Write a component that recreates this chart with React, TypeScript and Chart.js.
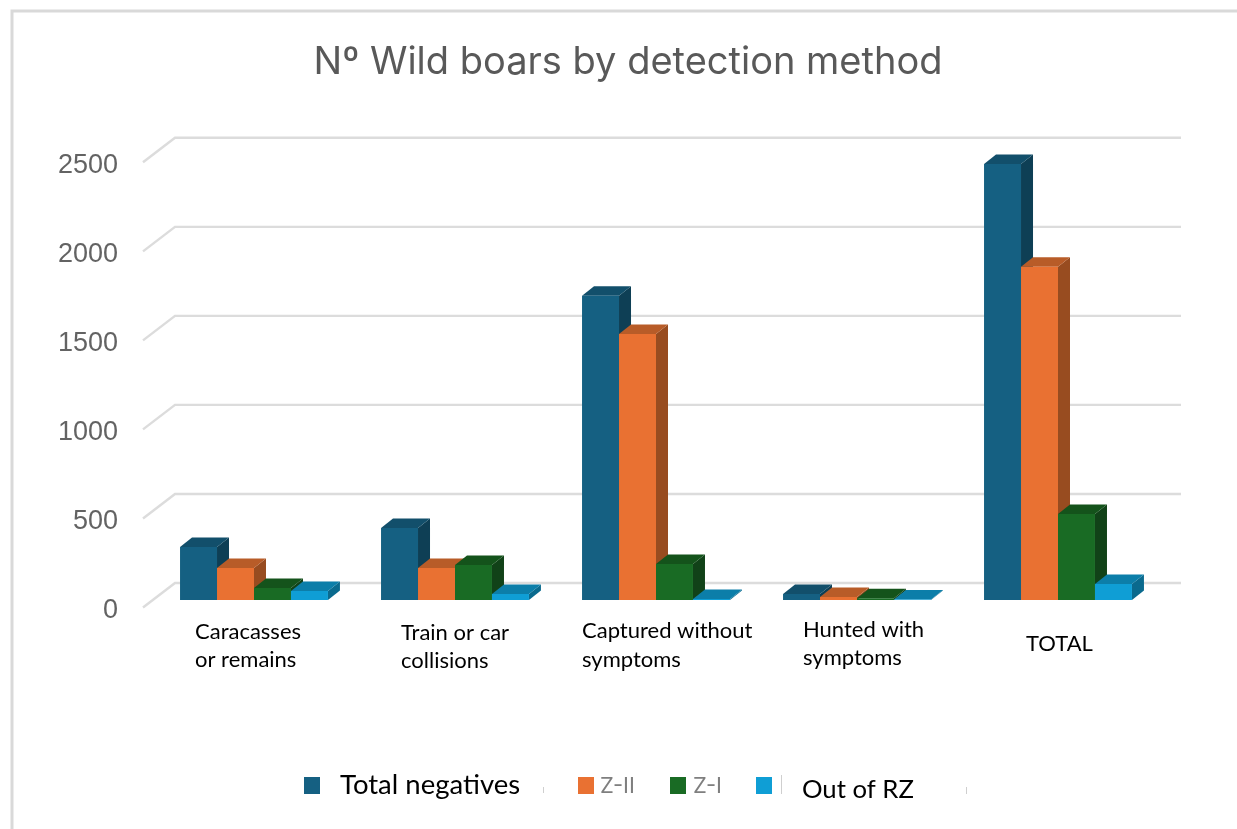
import React, { useEffect, useRef } from "react";
import { Chart, registerables } from "chart.js";

Chart.register(...registerables);

const categories = ["Caracasses or remains", "Train or car collisions", "Captured without symptoms", "Hunted with symptoms", "TOTAL"];
const categoryLines = [["Caracasses", "or remains"], ["Train or car", "collisions"], ["Captured without", "symptoms"], ["Hunted with", "symptoms"], ["TOTAL"]];
const yTicks = [0, 500, 1000, 1500, 2000, 2500];
const totalNegatives = [298, 405, 1708, 34, 2449];
const zII = [180, 180, 1494, 17, 1871];
const zI = [67, 197, 202, 10, 483];
const outOfRZ = [50, 34, 6, 3, 90];
const seriesNames = ["Total negatives", "Z-II", "Z-I", "Out of RZ"];
const frontColors = ["#156082", "#E97132", "#196B24", "#0F9ED5"];
const topColors = ["#124F6B", "#B85C28", "#14531B", "#0C7EA9"];
const sideColors = ["#0E3F55", "#984C20", "#114218", "#0A6A8E"];
const title = "Nº Wild boars by detection method";

const DEPTH_X = 12;
const DEPTH_Y = 9.5;

const labelNudges = [
  { dx: -59, y: [632, 660] },
  { dx: -54, y: [633, 661] },
  { dx: -74, y: [631, 660] },
  { dx: -54, y: [630, 658] },
  { dx: -32, y: [644] },
];
const legendItems = [
  { box: 304, text: 340, y: 793.5, font: "27.5px Lato", color: "#000000" },
  { box: 578, text: 600, y: 793, font: "22px Inter", color: "#7F7F7F" },
  { box: 670, text: 693, y: 793, font: "22px Inter", color: "#7F7F7F" },
  { box: 756, text: 802, y: 798, font: "25.7px Lato", color: "#000000" },
];
const stray = [{ x: 543, y: 787, h: 6 }, { x: 781, y: 775, h: 19 }, { x: 966, y: 787, h: 7 }];

const depthPlugin = {
  id: "depth3d",
  beforeDraw(chart: any) {
    const { ctx, width, height } = chart;
    ctx.save();
    ctx.fillStyle = "#ffffff";
    ctx.fillRect(0, 0, width, height);
    ctx.strokeStyle = "#D9D9D9";
    ctx.lineWidth = 3;
    ctx.beginPath();
    ctx.moveTo(12, height);
    ctx.lineTo(12, 11);
    ctx.lineTo(width, 11);
    ctx.stroke();
    ctx.restore();
  },
  beforeDatasetsDraw(chart: any) {
    const { ctx } = chart;
    const yScale = chart.scales.y;
    ctx.save();
    ctx.strokeStyle = "#DCDCDC";
    ctx.lineWidth = 2.4;
    ctx.lineJoin = "miter";
    yScale.ticks.forEach((t: any) => {
      const y = yScale.getPixelForValue(t.value);
      ctx.beginPath();
      ctx.moveTo(143, y + 7.5);
      ctx.lineTo(175, y - 17);
      ctx.lineTo(1181, y - 17);
      ctx.stroke();
    });
    ctx.restore();
  },
  beforeDatasetDraw() {
    return false;
  },
  afterDatasetsDraw(chart: any) {
    const { ctx } = chart;
    chart.data.datasets.forEach((_: any, di: number) => {
      const meta = chart.getDatasetMeta(di);
      meta.data.forEach((bar: any) => {
        const half = bar.width / 2;
        const l = bar.x - half;
        const r = bar.x + half;
        const t = bar.y;
        const b = bar.base;
        ctx.save();
        ctx.fillStyle = sideColors[di];
        ctx.beginPath();
        ctx.moveTo(r, t);
        ctx.lineTo(r + DEPTH_X, t - DEPTH_Y);
        ctx.lineTo(r + DEPTH_X, b - DEPTH_Y);
        ctx.lineTo(r, b);
        ctx.closePath();
        ctx.fill();
        ctx.fillStyle = topColors[di];
        ctx.beginPath();
        ctx.moveTo(l, t);
        ctx.lineTo(l + DEPTH_X, t - DEPTH_Y);
        ctx.lineTo(r + DEPTH_X, t - DEPTH_Y);
        ctx.lineTo(r, t);
        ctx.closePath();
        ctx.fill();
        ctx.restore();
        bar.draw(ctx);
      });
    });
  },
  afterDraw(chart: any) {
    const { ctx } = chart;
    const xScale = chart.scales.x;
    ctx.save();
    ctx.textAlign = "left";
    ctx.textBaseline = "middle";
    ctx.fillStyle = "#000000";
    ctx.font = "22px Lato";
    categoryLines.forEach((lines, i) => {
      const x = xScale.getPixelForValue(i) + labelNudges[i].dx;
      lines.forEach((line, k) => ctx.fillText(line, x, labelNudges[i].y[k]));
    });
    ctx.textBaseline = "alphabetic";
    seriesNames.forEach((name, i) => {
      const item = legendItems[i];
      ctx.fillStyle = frontColors[i];
      ctx.fillRect(item.box, 777, 16, 17);
      ctx.fillStyle = item.color;
      ctx.font = item.font;
      ctx.fillText(name, item.text, item.y);
    });
    ctx.fillStyle = "#CFCFCF";
    stray.forEach((s) => ctx.fillRect(s.x, s.y, 1, s.h));
    ctx.restore();
  },
};

export default function App() {
  const ref = useRef<HTMLCanvasElement>(null);
  useEffect(() => {
    const series = [totalNegatives, zII, zI, outOfRZ];
    const chart = new Chart(ref.current as HTMLCanvasElement, {
      type: "bar",
      data: {
        labels: categories,
        datasets: series.map((data, i) => ({
          label: seriesNames[i],
          data,
          backgroundColor: frontColors[i],
          borderWidth: 0,
          categoryPercentage: 0.736,
          barPercentage: 1,
        })),
      },
      options: {
        responsive: false,
        animation: false,
        layout: { padding: { left: 19, right: 0, top: 0, bottom: 229 } },
        plugins: {
          legend: { display: false },
          tooltip: { enabled: false },
          title: {
            display: true,
            text: title,
            color: "#595959",
            font: { family: "Inter", size: 38, weight: "normal", lineHeight: 1.2 },
            padding: { top: 40.2, bottom: 69 },
          },
        },
        scales: {
          x: { display: false, grid: { display: false } },
          y: {
            min: 0,
            max: 2500,
            afterFit: (scale: any) => {
              scale.width = 134.5;
            },
            afterBuildTicks: (scale: any) => {
              scale.ticks = yTicks.map((value) => ({ value }));
            },
            grid: { display: false, drawTicks: false },
            border: { display: false },
            ticks: {
              color: "#636363",
              font: { family: "Liberation Sans", size: 27 },
              padding: 35.5,
              labelOffset: 11,
              callback: (value: any) => String(value),
            },
          },
          rightGutter: {
            position: "right",
            display: true,
            afterFit: (scale: any) => {
              scale.width = 78.5;
            },
            grid: { display: false, drawTicks: false },
            border: { display: false },
            ticks: { display: false },
          },
        },
      },
      plugins: [depthPlugin],
    } as any);
    return () => chart.destroy();
  }, []);
  return (
    <canvas
      ref={ref}
      width={1237}
      height={829}
      style={{ position: "fixed", left: 0, top: 0, width: 1237, height: 829 }}
    />
  );
}
